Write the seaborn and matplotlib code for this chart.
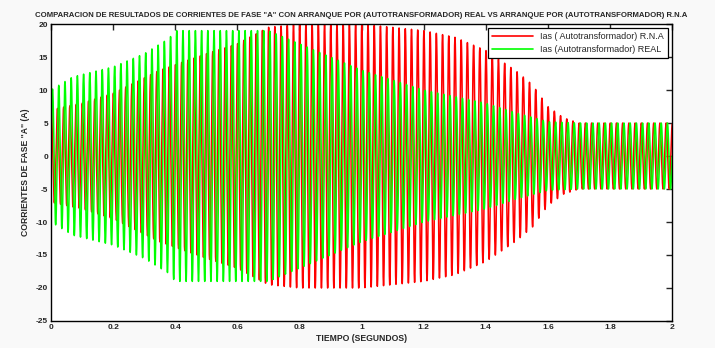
import numpy as np
import pandas as pd
import matplotlib
matplotlib.use("Agg")
import matplotlib.pyplot as plt
import seaborn as sns

# envelope of the peaks (time in s, peak current in A)
t_real = [0.0, 0.07, 0.2, 0.3, 0.38, 0.4, 0.7, 0.8, 0.9, 1.0, 1.1, 1.2, 1.3, 1.4, 1.5, 1.6, 1.7, 2.0]
amp_real = [10.0, 12.0, 13.5, 15.5, 17.8, 19.0, 19.0, 17.0, 15.0, 13.0, 11.5, 10.0, 9.0, 8.0, 6.5, 5.2, 5.0, 5.0]

t_rna = [0.0, 0.1, 0.2, 0.35, 0.5, 0.6, 0.7, 0.8, 1.0, 1.1, 1.2, 1.3, 1.4, 1.5, 1.55, 1.6, 1.65, 1.7, 2.0]
amp_rna = [7.0, 8.0, 9.5, 13.0, 15.5, 17.0, 19.5, 20.0, 20.0, 19.5, 19.0, 18.0, 16.0, 12.8, 10.8, 7.5, 5.8, 5.0, 5.0]

freq_hz = 50.0
phase_rna = 1.3
phase_real = 0.0

labels = ["Ias ( Autotransformador) R.N.A", "Ias (Autotransformador) REAL"]

t = np.linspace(0, 2, 24001)
ias_rna = np.interp(t, t_rna, amp_rna) * np.sin(2 * np.pi * freq_hz * t + phase_rna)
ias_real = np.interp(t, t_real, amp_real) * np.sin(2 * np.pi * freq_hz * t + phase_real)

df = pd.DataFrame({
    "t": np.concatenate([t, t]),
    "i": np.concatenate([ias_rna, ias_real]),
    "serie": [labels[0]] * len(t) + [labels[1]] * len(t),
})

sns.set_style("white")
plt.rcParams["font.family"] = ["Liberation Sans", "DejaVu Sans"]
plt.rcParams["axes.unicode_minus"] = False

fig = plt.figure(figsize=(7.15, 3.48), dpi=100)
fig.patch.set_facecolor("#f9f9f9")
ax = fig.add_axes([0.0713, 0.0776, 0.8687, 0.8534])

sns.lineplot(data=df, x="t", y="i", hue="serie", palette=["#ff0000", "#00ff00"],
             estimator=None, sort=False, linewidth=1.1, ax=ax)

ax.set_xlim(0, 2)
ax.set_ylim(-25, 20)
ax.set_xticks(np.arange(0, 2.01, 0.2))
ax.set_xticklabels(["0", "0.2", "0.4", "0.6", "0.8", "1", "1.2", "1.4", "1.6", "1.8", "2"])
ax.set_yticks(np.arange(-25, 21, 5))
ax.tick_params(direction="in", top=True, right=True, length=4, width=1, labelsize=6, pad=2)
for lab in ax.get_xticklabels() + ax.get_yticklabels():
    lab.set_fontweight("bold")
for s in ax.spines.values():
    s.set_linewidth(1)
    s.set_color("black")

ax.set_xlabel("TIEMPO (SEGUNDOS)", fontsize=6.2, fontweight="bold", labelpad=2)
ax.set_ylabel('CORRIENTES DE FASE "A" (A)', fontsize=6.2, fontweight="bold", labelpad=4)
ax.set_title('COMPARACION DE RESULTADOS DE CORRIENTES DE FASE "A" CON ARRANQUE POR (AUTOTRANSFORMADOR) REAL VS ARRANQUE POR (AUTOTRANSFORMADOR) R.N.A',
             fontsize=5.6, fontweight="bold", pad=5)

leg = ax.legend(loc="upper right", fontsize=6.5, frameon=True, fancybox=False,
                edgecolor="black", framealpha=1, borderaxespad=0.4, handlelength=4.5,
                borderpad=0.5, labelspacing=0.4)
leg.set_title(None)
leg.get_frame().set_linewidth(0.9)
for h in leg.get_lines():
    h.set_linewidth(1.2)

fig.savefig("out.png", dpi=100, facecolor=fig.get_facecolor())
